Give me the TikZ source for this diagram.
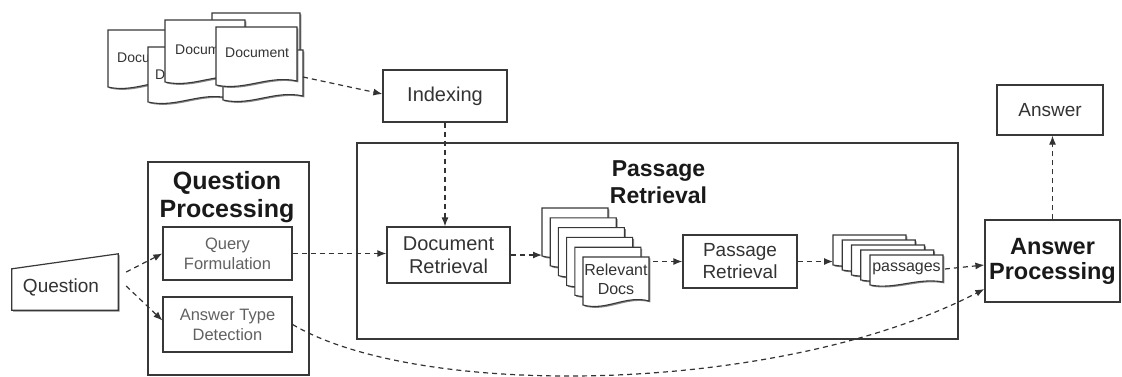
\documentclass[tikz,border=0pt]{standalone}
\usepackage{fontspec}
\setmainfont{Liberation Sans}
\usetikzlibrary{arrows.meta,calc,shadows}

\colorlet{ink}{black!78}
\tikzset{
  shade box/.style={drop shadow={shadow xshift=1.4pt, shadow yshift=-1.4pt, fill=black!60, opacity=0.8}},
  box/.style={draw=ink, line width=1.2pt, fill=white, shade box, inner sep=0pt,
              align=center, text=black!80},
  panel/.style={draw=ink, line width=1.1pt, inner sep=0pt},
  title/.style={font=\fontsize{23}{27}\selectfont\bfseries, text=black!90, align=center, inner sep=0pt},
  flow/.style={draw=black!80, line width=1.2pt, dash pattern=on 5pt off 4pt,
               -{Latex[length=9pt,width=7pt]}},
  sheet/.style={draw=ink, line width=1.1pt, fill=white, shade box},
  sheettext/.style={inner sep=0pt, text=black!80},
}

% one paper sheet with a wavy lower edge:
% name, left, top, width, height, text, text-node options, wave depth
\newcommand{\papersheet}[8]{%
  \filldraw[sheet] (#2,#3) -- ++(#4,0) -- ++(0,#5-#8)
    .. controls +(-0.35*#4,-1.6*#8) and +(0.35*#4,1.6*#8) .. ++(-#4,#8) -- cycle;
  \node[sheettext,#7] (#1) at (#2,#3) {#6};
}

\begin{document}
\begin{tikzpicture}[x=1pt,y=-1pt]
\useasboundingbox (0,0) rectangle (1122,376);

% ---- source documents (overlapping pile; only the uncovered part of each label is set) ----
\begin{scope}[font=\fontsize{14}{16}\selectfont]
\papersheet{docA}{108}{30}{76}{57}{Docu}{anchor=west, shift={(9,28)}}{4}
\papersheet{docB}{212}{13}{88}{56}{}{}{4}
\papersheet{docD}{148}{47}{80}{55}{D}{anchor=west, shift={(7,28)}}{4}
\papersheet{docC}{165}{20}{80}{62}{Docum}{anchor=west, shift={(10,30)}}{4}
\papersheet{docE}{223}{50}{80}{50}{}{}{4}
\papersheet{docF}{216}{27}{81}{58}{Document}{anchor=west, shift={(9,26)}}{4}
\end{scope}
\coordinate (docs-out) at (303,77);

% ---- containers ----
\node[panel, minimum width=161pt, minimum height=213pt] (qp) at (228.5,268.5) {};
\node[title, font=\fontsize{25}{28}\selectfont\bfseries] (qp-title) at (227,197) {Question\\Processing};

\node[panel, minimum width=601pt, minimum height=196pt] (prp) at (657.5,241) {};
\node[title] (prp-title) at (658.5,182) {Passage\\Retrieval};

% ---- boxes ----
\node[box, minimum width=124pt, minimum height=52pt, font=\fontsize{20}{22}\selectfont] (idx) at (445,96) {Indexing};
\node[box, minimum width=106pt, minimum height=50pt, font=\fontsize{19}{22}\selectfont] (ans) at (1050,110) {Answer};

\node[minimum width=106pt, minimum height=56pt, inner sep=0pt] (q) at (65,282) {};
\filldraw[draw=ink, line width=1.2pt, fill=white, shade box]
  (q.south west) -- ($(q.north west)+(0,15)$) -- (q.north east) -- (q.south east) -- cycle;
\node[sheettext, font=\fontsize{19}{22}\selectfont] (q-label) at (61,287) {Question};

\node[box, minimum width=129pt, minimum height=53pt, text=black!62,
      font=\fontsize{16.5}{20}\selectfont] (qf) at (227.5,253.5) {Query\\Formulation};
\node[box, minimum width=129pt, minimum height=55pt, text=black!62,
      font=\fontsize{16.5}{20}\selectfont] (atd) at (227.5,324.5) {Answer Type\\Detection};

\node[box, minimum width=123pt, minimum height=56pt,
      font=\fontsize{20}{23}\selectfont] (docret) at (448.5,255) {Document\\Retrieval};
\node[box, minimum width=114pt, minimum height=53pt,
      font=\fontsize{19}{22}\selectfont] (pr) at (740,261.5) {Passage\\Retrieval};

\node[box, minimum width=135pt, minimum height=82pt,
      font=\fontsize{23.5}{25}\selectfont\bfseries, text=black!90] (ap) at (1052.5,261) {Answer\\Processing};

% ---- relevant documents stack ----
\begin{scope}[font=\fontsize{16}{19}\selectfont]
\papersheet{rd0}{542}{208}{66}{48}{}{}{4}
\papersheet{rd1}{550.2}{217.8}{66}{48}{}{}{4}
\papersheet{rd2}{558.4}{227.6}{66}{48}{}{}{4}
\papersheet{rd3}{566.6}{237.4}{66}{48}{}{}{4}
\papersheet{rd4}{574.8}{247.2}{66}{48}{}{}{4}
\papersheet{rd5}{583}{257}{66}{48}{Relevant\\Docs}{align=center, shift={(33,22)}}{4}
\end{scope}

% ---- passages stack ----
\begin{scope}[font=\fontsize{16}{19}\selectfont]
\papersheet{ps0}{833}{235}{73}{30}{}{}{3}
\papersheet{ps1}{842.25}{240}{73}{30}{}{}{3}
\papersheet{ps2}{851.5}{245}{73}{30}{}{}{3}
\papersheet{ps3}{860.75}{250}{73}{30}{}{}{3}
\papersheet{ps4}{870}{255}{73}{30}{passages}{shift={(36.5,14)}}{3}
\end{scope}

% ---- connectors ----
\draw[flow] (docs-out) -- ([yshift=2pt]idx.west);
\draw[flow] (idx.south) -- (idx.south |- docret.north);
\draw[flow] ([shift={(8,-10)}]q.east) -- (qf.west);
\draw[flow] ([shift={(8,4)}]q.east) -- ([yshift=4pt]atd.west);
\draw[flow] (qf.east) -- (qf.east -| docret.west);
\draw[flow] (docret.east) -- (docret.east -| rd0);
\draw[flow] ([xshift=5pt]rd5.east |- pr.west) -- (pr.west);
\draw[flow] (pr.east) -- (pr.east -| ps0);
\draw[flow] ([xshift=4pt]ps4.east) -- ([yshift=-4pt]ap.west);
\draw[flow] (atd.east) .. controls (420,400) and (780,395) .. ([yshift=-28pt]ap.west);
\draw[flow] (ap.north) -- (ap.north |- ans.south);
\end{tikzpicture}
\end{document}
